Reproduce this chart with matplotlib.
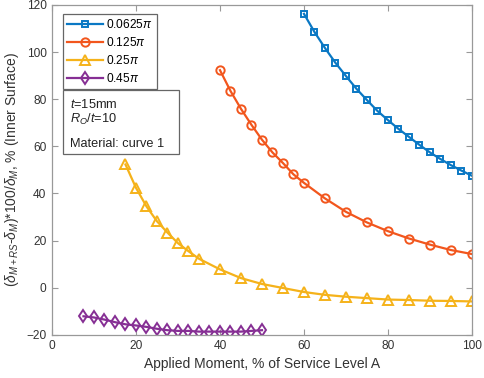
import matplotlib
matplotlib.use("Agg")
import matplotlib.pyplot as plt
from matplotlib.patches import Rectangle

plt.rcParams['font.family'] = ['Liberation Sans', 'DejaVu Sans']
plt.rcParams['mathtext.fontset'] = 'custom'
plt.rcParams['mathtext.rm'] = 'Liberation Sans'
plt.rcParams['mathtext.it'] = 'Liberation Sans:italic'
plt.rcParams['mathtext.bf'] = 'Liberation Sans:bold'

# Data
x_a = [60, 62.5, 65, 67.5, 70, 72.5, 75, 77.5, 80, 82.5, 85, 87.5, 90, 92.5, 95, 97.5, 100]
y_a = [116.2, 108.5, 101.7, 95.4, 89.8, 84.4, 79.6, 75.0, 71.1, 67.4, 64.0, 60.6, 57.4, 54.6, 52.0, 49.7, 47.5]

x_b = [40, 42.5, 45, 47.5, 50, 52.5, 55, 57.5, 60, 65, 70, 75, 80, 85, 90, 95, 100]
y_b = [92.3, 83.5, 75.9, 69.1, 62.8, 57.4, 52.9, 48.1, 44.5, 37.9, 32.2, 27.7, 24.0, 20.9, 18.3, 16.0, 14.3]

x_c = [17.5, 20, 22.5, 25, 27.5, 30, 32.5, 35, 40, 45, 50, 55, 60, 65, 70, 75, 80, 85, 90, 95, 100]
y_c = [52.3, 42.4, 34.5, 28.2, 23.4, 18.9, 15.5, 12.3, 7.8, 4.1, 1.6, -0.1, -1.8, -3.0, -3.8, -4.4, -5.0, -5.2, -5.5, -5.6, -5.8]

x_d = [7.5, 10, 12.5, 15, 17.5, 20, 22.5, 25, 27.5, 30, 32.5, 35, 37.5, 40, 42.5, 45, 47.5, 50]
y_d = [-12.1, -12.6, -13.5, -14.6, -15.5, -16.0, -16.6, -17.4, -18.0, -18.3, -18.3, -18.6, -18.6, -18.6, -18.6, -18.6, -18.3, -18.0]

labels = [r'0.0625$\pi$', r'0.125$\pi$', r'0.25$\pi$', r'0.45$\pi$']
colors = ['#0a78c4', '#f2561d', '#f5b21a', '#862f94']
markers = ['s', 'o', '^', 'd']
msizes = [5, 6, 7, 6.5]

fig = plt.figure(figsize=(4.84, 3.78), dpi=100)
ax = fig.add_axes([0.1074, 0.114, 0.8678, 0.873])

series = [(x_a, y_a), (x_b, y_b), (x_c, y_c), (x_d, y_d)]
for (xs, ys), lab, c, m, ms in zip(series, labels, colors, markers, msizes):
    ax.plot(xs, ys, color=c, marker=m, markersize=ms, markerfacecolor='none',
            markeredgewidth=1.4, linewidth=1.6, label=lab)

ax.set_xlim(0, 100)
ax.set_ylim(-20, 120)
ax.set_xticks([0, 20, 40, 60, 80, 100])
ax.set_yticks([-20, 0, 20, 40, 60, 80, 100, 120])
ax.tick_params(direction='in', top=True, right=True, length=4, width=0.8, pad=4,
               colors='#999999', labelcolor='#333333', labelsize=8.6)
for s in ax.spines.values():
    s.set_color('#999999')
    s.set_linewidth(0.9)

ax.set_xlabel('Applied Moment, % of Service Level A', fontsize=10, color='#333333', labelpad=3)
ax.set_ylabel(r'$(\delta_{M+RS}$-$\delta_{M})$*100/$\delta_{M}$, % (Inner Surface)',
              fontsize=10, color='#333333', labelpad=4)

leg = ax.legend(loc='upper left', bbox_to_anchor=(0.026, 0.973), fontsize=8.6,
                frameon=True, fancybox=False, edgecolor='#666666', framealpha=1,
                handlelength=3.0, handletextpad=0.25, borderpad=0.35, labelspacing=0.42,
                borderaxespad=0)
leg.get_frame().set_linewidth(0.9)

# Annotation box
ax.add_patch(Rectangle((0.026, 0.548), 0.276, 0.194, transform=ax.transAxes,
                       facecolor='white', edgecolor='#666666', linewidth=0.9, zorder=5))
ax.text(0.043, 0.688, '$t$=15mm', transform=ax.transAxes, fontsize=9.2,
        va='baseline', ha='left', color='#222222', zorder=6)
ax.text(0.043, 0.642, '$R_O$/$t$=10', transform=ax.transAxes, fontsize=9.2,
        va='baseline', ha='left', color='#222222', zorder=6)
ax.text(0.043, 0.570, 'Material: curve 1', transform=ax.transAxes, fontsize=9.2,
        va='baseline', ha='left', color='#222222', zorder=6)

fig.savefig('out.png', dpi=100)
